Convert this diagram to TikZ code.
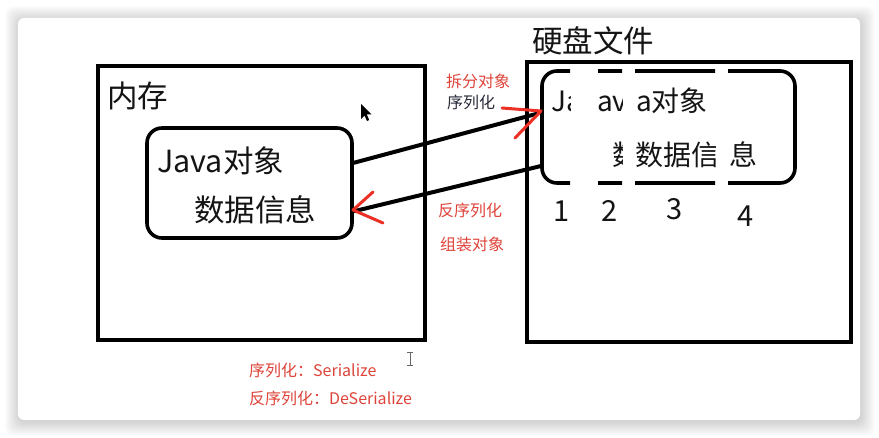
\documentclass[tikz,border=0pt]{standalone}
\usepackage{fontspec}
\setmainfont{Noto Sans CJK SC}
\definecolor{ink}{RGB}{20,20,20}
\definecolor{labelred}{RGB}{222,68,58}
\definecolor{arrowred}{RGB}{236,48,38}
\definecolor{darklabel}{RGB}{40,42,56}
\begin{document}
\begin{tikzpicture}[x=1pt,y=-1pt,
  frame/.style={draw=black, line width=3.6pt},
  arrowline/.style={draw=black, line width=4pt, line cap=round},
  redhead/.style={draw=arrowred, line width=3pt, line cap=round, line join=round},
  bigtext/.style={font=\fontsize{30.5}{34}\selectfont, text=ink, inner sep=0pt, anchor=base west},
  midtext/.style={font=\fontsize{28}{32}\selectfont, text=ink, inner sep=0pt, anchor=base west},
  numtext/.style={font=\fontsize{29}{32}\selectfont, text=ink, inner sep=0pt, anchor=base west},
  smalltext/.style={font=\fontsize{16}{19}\selectfont, text=labelred, inner sep=0pt, anchor=base west},
]
\useasboundingbox (0,0) rectangle (879,438);
\fill[white] (0,0) rectangle (879,438);
% card shadow
\foreach \i in {1,...,14} {
  \fill[black, opacity=0.011, rounded corners=8pt] ({18-\i+1},{18-\i+2}) rectangle ({860+\i+1},{420+\i+2});
}
\fill[white, rounded corners=6pt] (18,18) rectangle (860,420);

% ---------- left: memory ----------
\node[frame, minimum width=327pt, minimum height=274pt, inner sep=0pt, outer sep=0pt] (mem) at (261.5,203) {};
\node[bigtext] (memlabel) at (107,108) {内存};
\node[frame, rounded corners=15pt, minimum width=205pt, minimum height=110pt, inner sep=0pt, outer sep=0pt] (obj) at (249.5,183) {};
\node[bigtext] (objname) at (157,173) {Java对象};
\node[bigtext] (objdata) at (194,222) {数据信息};

% ---------- right: disk file ----------
\node[frame, minimum width=324pt, minimum height=280pt, inner sep=0pt, outer sep=0pt] (disk) at (689,202) {};
\node[bigtext] (disklabel) at (532,53) {硬盘文件};

% split object pieces
\begin{scope}
  \clip (530,60) rectangle (570,195);
  \draw[frame, rounded corners=15pt] (542,71) rectangle (795,183);
  \node[midtext] (p1a) at (551,112) {Ja};
\end{scope}
\begin{scope}
  \clip (598,60) rectangle (622,195);
  \draw[frame, rounded corners=15pt] (542,71) rectangle (795,183);
  \node[midtext] (p2a) at (597,112) {av};
  \node[midtext] (p2b) at (612,166) {数};
\end{scope}
\begin{scope}
  \clip (635,60) rectangle (715,195);
  \draw[frame, rounded corners=15pt] (542,71) rectangle (795,183);
  \node[midtext] (p3a) at (636,112) {a对象};
  \node[midtext] (p3b) at (635,166) {数据信};
\end{scope}
\begin{scope}
  \clip (728,60) rectangle (810,195);
  \draw[frame, rounded corners=15pt] (542,71) rectangle (795,183);
  \node[midtext] (p4b) at (729,166) {息};
\end{scope}

% piece numbers
\node[numtext] (n1) at (553,222) {1};
\node[numtext] (n2) at (601,222) {2};
\node[numtext] (n3) at (666,220) {3};
\node[numtext] (n4) at (737,227) {4};

% ---------- connectors ----------
\coordinate (s1) at (353,163);
\coordinate (t1) at (536,114);
\coordinate (tip1) at (541,111);
\coordinate (h1a) at (502,108);
\coordinate (h1b) at (515,138);
\draw[arrowline] (s1) -- (t1);
\draw[redhead] (h1a) -- (tip1) -- (h1b);

\coordinate (s2) at (541,166);
\coordinate (t2) at (355,211);
\coordinate (tip2) at (353,210);
\coordinate (h2a) at (373,192);
\coordinate (h2b) at (383,223);
\draw[arrowline] (s2) -- (t2);
\draw[redhead] (h2a) -- (tip2) -- (h2b);

% ---------- labels ----------
\node[smalltext] (lsplit) at (446,88) {拆分对象};
\node[smalltext, text=darklabel] (lser) at (447,109) {序列化};
\node[smalltext] (lde) at (438,217) {反序列化};
\node[smalltext] (lasm) at (440,251) {组装对象};
\node[smalltext] (lega) at (249,377) {序列化：Serialize};
\node[smalltext] (legb) at (249,405) {反序列化：DeSerialize};

% ---------- cursors ----------
\fill[black] (361,104) -- (361,119) -- (364.5,115.5) -- (367,121) -- (369.2,120) -- (366.8,114.5) -- (371.5,114.5) -- cycle;
\draw[black!60, line width=0.9pt] (407,352) -- (413,352) (410,352) -- (410,365) (407,365) -- (413,365);
\end{tikzpicture}
\end{document}
